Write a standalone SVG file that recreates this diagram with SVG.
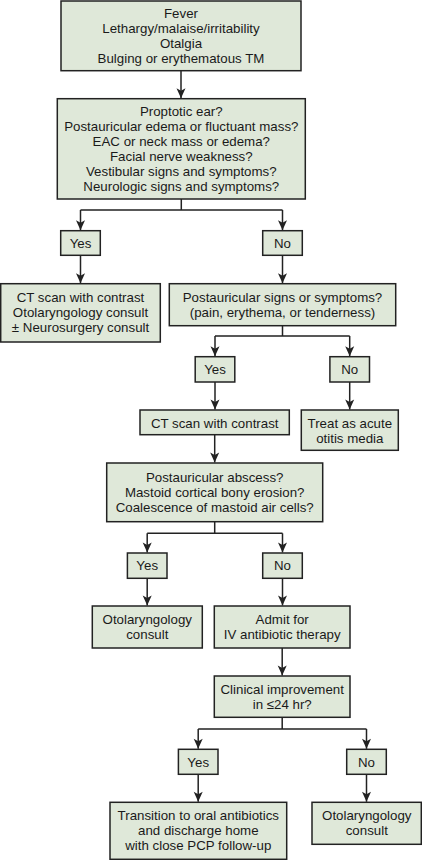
<svg xmlns="http://www.w3.org/2000/svg" width="422" height="860" viewBox="0 0 422 860">
<style>
.box{fill:#dfe8d9;stroke:#222;stroke-width:1.5}
.t{font-family:"Liberation Sans",Arial,sans-serif;font-size:13.3px;fill:#1a1a1a;text-anchor:middle}
.c{fill:none;stroke:#222;stroke-width:1.5}
</style>
<defs>
<marker id="ah" markerUnits="userSpaceOnUse" markerWidth="12" markerHeight="10" viewBox="0 -5 11 10" refX="10" refY="0" orient="auto">
<path d="M0,-4.5 L10,0 L0,4.5 L2.5,0 Z" fill="#222"/>
</marker>
</defs>
<rect width="422" height="860" fill="#fff"/>
<g id="connectors">
<path class="c" d="M181,70.7 V98.2" marker-end="url(#ah)"/>
<path class="c" d="M181.3,199 V210 M80.5,210 H282.5"/>
<path class="c" d="M80.5,210 V230.2" marker-end="url(#ah)"/>
<path class="c" d="M282.5,210 V230.2" marker-end="url(#ah)"/>
<path class="c" d="M80.5,255.3 V283.2" marker-end="url(#ah)"/>
<path class="c" d="M282.5,255.3 V283.2" marker-end="url(#ah)"/>
<path class="c" d="M282.5,325.7 V336 M215,336 H349.7"/>
<path class="c" d="M215,336 V356.2" marker-end="url(#ah)"/>
<path class="c" d="M349.7,336 V356.2" marker-end="url(#ah)"/>
<path class="c" d="M215,382 V409.5" marker-end="url(#ah)"/>
<path class="c" d="M349.7,382 V409.5" marker-end="url(#ah)"/>
<path class="c" d="M214.7,434.7 V462.5" marker-end="url(#ah)"/>
<path class="c" d="M214.7,521.7 V533.3 M147.2,533.3 H282.5"/>
<path class="c" d="M147.2,533.3 V552.5" marker-end="url(#ah)"/>
<path class="c" d="M282.5,533.3 V552.5" marker-end="url(#ah)"/>
<path class="c" d="M147.2,578.3 V605.5" marker-end="url(#ah)"/>
<path class="c" d="M282.5,578.3 V605.5" marker-end="url(#ah)"/>
<path class="c" d="M282.2,648 V675.5" marker-end="url(#ah)"/>
<path class="c" d="M282.2,717.3 V729 M198.2,729 H366.5"/>
<path class="c" d="M198.2,729 V748.8" marker-end="url(#ah)"/>
<path class="c" d="M366.5,729 V748.8" marker-end="url(#ah)"/>
<path class="c" d="M198.2,774.3 V801.8" marker-end="url(#ah)"/>
<path class="c" d="M366.5,774.3 V801.8" marker-end="url(#ah)"/>
</g>
<g id="n1"><rect class="box" x="61" y="1" width="240" height="69.7"/>
<text class="t" x="181" y="17.5">Fever</text><text class="t" x="181" y="32.5">Lethargy/malaise/irritability</text><text class="t" x="181" y="47.5">Otalgia</text><text class="t" x="181" y="62.5">Bulging or erythematous TM</text></g>
<g id="n2"><rect class="box" x="57.3" y="98.7" width="248" height="100.3"/>
<text class="t" x="181.3" y="115.8">Proptotic ear?</text><text class="t" x="181.3" y="130.8">Postauricular edema or fluctuant mass?</text><text class="t" x="181.3" y="145.8">EAC or neck mass or edema?</text><text class="t" x="181.3" y="160.8">Facial nerve weakness?</text><text class="t" x="181.3" y="175.8">Vestibular signs and symptoms?</text><text class="t" x="181.3" y="190.8">Neurologic signs and symptoms?</text></g>
<g id="yes1"><rect class="box" x="60.7" y="230.7" width="39.6" height="24.6"/><text class="t" x="80.5" y="247.5">Yes</text></g>
<g id="no1"><rect class="box" x="262.7" y="230.7" width="39.6" height="24.6"/><text class="t" x="282.5" y="247.5">No</text></g>
<g id="ct1"><rect class="box" x="0.7" y="283.7" width="159.6" height="58.3"/>
<text class="t" x="80.5" y="302.1">CT scan with contrast</text><text class="t" x="80.5" y="317.1">Otolaryngology consult</text><text class="t" x="80.5" y="332.1">± Neurosurgery consult</text></g>
<g id="post"><rect class="box" x="169.3" y="283.7" width="226.4" height="42"/>
<text class="t" x="282.5" y="302.1">Postauricular signs or symptoms?</text><text class="t" x="282.5" y="317.1">(pain, erythema, or tenderness)</text></g>
<g id="yes2"><rect class="box" x="195.2" y="356.7" width="39.6" height="25.3"/><text class="t" x="215" y="374.1">Yes</text></g>
<g id="no2"><rect class="box" x="329.9" y="356.7" width="39.6" height="25.3"/><text class="t" x="349.7" y="374.1">No</text></g>
<g id="ct2"><rect class="box" x="140" y="410" width="149.3" height="24.7"/><text class="t" x="214.7" y="427.5">CT scan with contrast</text></g>
<g id="treat"><rect class="box" x="301.3" y="410" width="97" height="40.3"/>
<text class="t" x="349.8" y="427.8">Treat as acute</text><text class="t" x="349.8" y="442.8">otitis media</text></g>
<g id="q3"><rect class="box" x="106.7" y="463" width="216" height="58.7"/>
<text class="t" x="214.7" y="481.5">Postauricular abscess?</text><text class="t" x="214.7" y="496.5">Mastoid cortical bony erosion?</text><text class="t" x="214.7" y="511.5">Coalescence of mastoid air cells?</text></g>
<g id="yes3"><rect class="box" x="127.4" y="553" width="39.6" height="25.3"/><text class="t" x="147.2" y="569.8">Yes</text></g>
<g id="no3"><rect class="box" x="262.7" y="553" width="39.6" height="25.3"/><text class="t" x="282.5" y="569.8">No</text></g>
<g id="oto1"><rect class="box" x="92.3" y="606" width="110" height="42"/>
<text class="t" x="147.3" y="624.1">Otolaryngology</text><text class="t" x="147.3" y="638.8">consult</text></g>
<g id="admit"><rect class="box" x="214.3" y="606" width="135.7" height="42"/>
<text class="t" x="282.2" y="624.1">Admit for</text><text class="t" x="282.2" y="638.8">IV antibiotic therapy</text></g>
<g id="clin"><rect class="box" x="214.3" y="676" width="135.7" height="41.3"/>
<text class="t" x="282.2" y="693.8">Clinical improvement</text><text class="t" x="282.2" y="708.8">in ≤24 hr?</text></g>
<g id="yes4"><rect class="box" x="178.4" y="749.3" width="39.6" height="25"/><text class="t" x="198.2" y="766.5">Yes</text></g>
<g id="no4"><rect class="box" x="346.7" y="749.3" width="39.6" height="25"/><text class="t" x="366.5" y="766.5">No</text></g>
<g id="trans"><rect class="box" x="110" y="802.3" width="176.7" height="57"/>
<text class="t" x="198.3" y="820.1">Transition to oral antibiotics</text><text class="t" x="198.3" y="834.8">and discharge home</text><text class="t" x="198.3" y="849.8">with close PCP follow-up</text></g>
<g id="oto2"><rect class="box" x="312" y="802.3" width="109.3" height="42"/>
<text class="t" x="366.8" y="820.1">Otolaryngology</text><text class="t" x="366.8" y="834.8">consult</text></g>
</svg>
